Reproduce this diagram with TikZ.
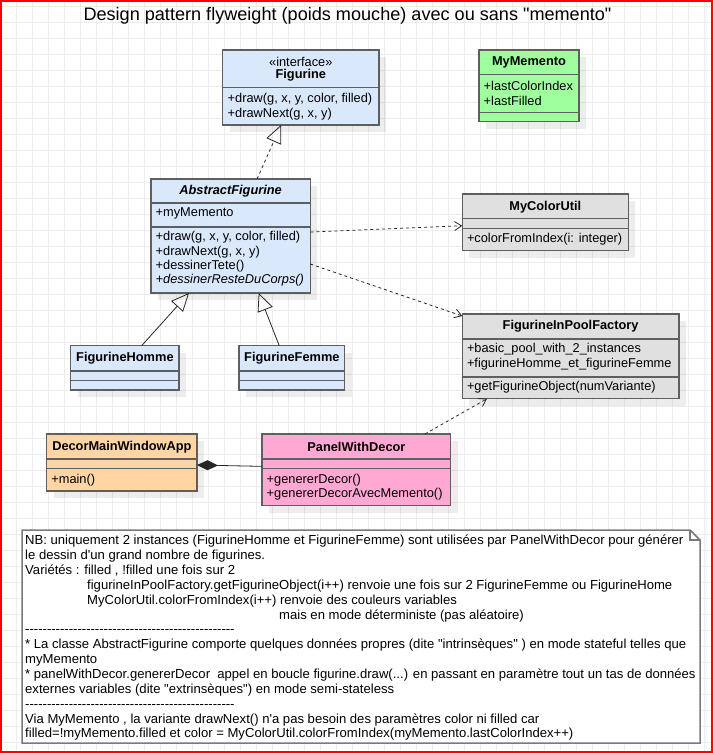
\documentclass[tikz,border=0pt]{standalone}
\usepackage{fontspec}
\newfontfamily\uifont{Liberation Sans}
\usetikzlibrary{arrows.meta,positioning,shadows}
\definecolor{boxline}{HTML}{5F5F5F}
\definecolor{notelin}{HTML}{7A7A7A}
\definecolor{gridcol}{HTML}{ECECEC}
\definecolor{bluefill}{HTML}{DAE8FC}
\definecolor{greenfill}{HTML}{9FFF9F}
\definecolor{grayfill}{HTML}{E0E0E0}
\definecolor{orangefill}{HTML}{FFD5A6}
\definecolor{pinkfill}{HTML}{FFA8D3}

\begin{document}
\begin{tikzpicture}[x=1pt,y=-1pt,font=\uifont\fontsize{12.8}{14.7}\selectfont]
\tikzstyle{classbox}=[draw=boxline,line width=1.3pt,anchor=north west,
inner sep=0pt,outer sep=0pt,
drop shadow={shadow xshift=7pt,shadow yshift=-7pt,fill=black,opacity=.07}]
\tikzstyle{divider}=[draw=boxline,line width=1.3pt]
\tikzstyle{classname}=[inner sep=0pt,font=\uifont\fontsize{12.8}{14.7}\selectfont\bfseries]
\tikzstyle{member}=[inner sep=0pt,anchor=west]
\tikzstyle{link}=[line width=0.8pt,draw=black!85]
\tikzstyle{dep}=[link,dash pattern=on 3pt off 3pt,-{Straight Barb[length=7pt,width=9pt]}]
\tikzstyle{inherit}=[link,-{Triangle[open,length=18pt,width=16pt]}]

\useasboundingbox (0,0) rectangle (713,753);
% grid
\foreach \gx in {0,16,...,712} \draw[gridcol,line width=0.8pt] (\gx,0) -- (\gx,753);
\foreach \gy in {6,22,...,752} \draw[gridcol,line width=0.8pt] (0,\gy) -- (713,\gy);

\node[font=\uifont\fontsize{18.1}{20}\selectfont] (title) at (347.5,16)
{Design pattern flyweight (poids mouche) avec ou sans "memento"};

% Figurine
\node[classbox,fill=bluefill,minimum width=156.3pt,minimum height=75pt] (fig) at (222.7,50) {};
\draw[divider] (fig.west |- 0,87.7) -- (fig.east |- 0,87.7);
\node[inner sep=0pt] (figstereo) at (300.8,61.5) {«interface»};
\node[classname] (figname) at (300.8,75.7) {Figurine};
\node[member] (figm1) at (227.5,99.3) {+draw(g, x, y, color, filled)};
\node[member] (figm2) at (227.5,114) {+drawNext(g, x, y)};

% MyMemento
\node[classbox,fill=greenfill,minimum width=100pt,minimum height=71.7pt] (memento) at (479,50) {};
\draw[divider] (memento.west |- 0,74.7) -- (memento.east |- 0,74.7);
\draw[divider] (memento.west |- 0,112.7) -- (memento.east |- 0,112.7);
\node[classname] (mementoname) at (529,62.7) {MyMemento};
\node[member] (mementoa1) at (483.5,85.7) {+lastColorIndex};
\node[member] (mementoa2) at (483.5,100.7) {+lastFilled};

% AbstractFigurine
\node[classbox,fill=bluefill,minimum width=159.3pt,minimum height=114pt] (abs) at (151,179) {};
\draw[divider] (abs.west |- 0,203) -- (abs.east |- 0,203);
\draw[divider] (abs.west |- 0,227) -- (abs.east |- 0,227);
\node[classname,font=\uifont\fontsize{12.8}{14.7}\selectfont\bfseries\itshape] (absname) at (230.6,191) {AbstractFigurine};
\node[member] (absa1) at (155.5,213.3) {+myMemento};
\node[member] (absm1) at (155.5,237.3) {+draw(g, x, y, color, filled)};
\node[member] (absm2) at (155.5,251.7) {+drawNext(g, x, y)};
\node[member] (absm3) at (155.5,265.9) {+dessinerTete()};
\node[member,font=\uifont\fontsize{12.8}{14.7}\selectfont\itshape] (absm4) at (155.5,280.3) {+dessinerResteDuCorps()};

% MyColorUtil
\node[classbox,fill=grayfill,minimum width=166pt,minimum height=56.7pt] (colorutil) at (462.3,194) {};
\draw[divider] (colorutil.west |- 0,218.7) -- (colorutil.east |- 0,218.7);
\draw[divider] (colorutil.west |- 0,228.7) -- (colorutil.east |- 0,228.7);
\node[classname] (colorutilname) at (545.3,206.7) {MyColorUtil};
\node[member] (colorutilm1) at (466.8,239.5) {+colorFromIndex(i: integer)};

% FigurineInPoolFactory
\node[classbox,fill=grayfill,minimum width=216.7pt,minimum height=84.7pt] (factory) at (462.3,314) {};
\draw[divider] (factory.west |- 0,339) -- (factory.east |- 0,339);
\draw[divider] (factory.west |- 0,377) -- (factory.east |- 0,377);
\node[classname] (factoryname) at (570.6,326.7) {FigurineInPoolFactory};
\node[member] (factorya1) at (466.8,349.5) {+basic\_pool\_with\_2\_instances};
\node[member] (factorya2) at (466.8,364.5) {+figurineHomme\_et\_figurineFemme};
\node[member] (factorym1) at (466.8,387.5) {+getFigurineObject(numVariante)};

% FigurineHomme, FigurineFemme
\node[classbox,fill=bluefill,minimum width=108.3pt,minimum height=44.3pt] (homme) at (70.7,345.7) {};
\draw[divider] (homme.west |- 0,371) -- (homme.east |- 0,371);
\draw[divider] (homme.west |- 0,380.7) -- (homme.east |- 0,380.7);
\node[classname] (hommename) at (124.9,358.3) {FigurineHomme};
\node[classbox,fill=bluefill,minimum width=105.7pt,minimum height=44.3pt] (femme) at (239,345.7) {};
\draw[divider] (femme.west |- 0,371) -- (femme.east |- 0,371);
\draw[divider] (femme.west |- 0,380.7) -- (femme.east |- 0,380.7);
\node[classname] (femmename) at (291.9,358.3) {FigurineFemme};

% DecorMainWindowApp
\node[classbox,fill=orangefill,minimum width=150.3pt,minimum height=57pt] (app) at (46.7,434) {};
\draw[divider] (app.west |- 0,459) -- (app.east |- 0,459);
\draw[divider] (app.west |- 0,468.7) -- (app.east |- 0,468.7);
\node[classname] (appname) at (121.9,446.7) {DecorMainWindowApp};
\node[member] (appm1) at (51.2,480) {+main()};

% PanelWithDecor
\node[classbox,fill=pinkfill,minimum width=188.7pt,minimum height=71.7pt] (panel) at (262,434) {};
\draw[divider] (panel.west |- 0,459) -- (panel.east |- 0,459);
\draw[divider] (panel.west |- 0,468.7) -- (panel.east |- 0,468.7);
\node[classname] (panelname) at (356.4,446.7) {PanelWithDecor};
\node[member] (panelm1) at (266.5,480) {+genererDecor()};
\node[member] (panelm2) at (266.5,494.3) {+genererDecorAvecMemento()};

% connectors
\draw[inherit,dash pattern=on 3pt off 3pt] ([xshift=26.4pt]abs.north) -- ([xshift=-19.8pt]fig.south);
\draw[inherit] ([xshift=16.8pt]homme.north) -- ([xshift=-41.6pt]abs.south);
\draw[inherit] ([xshift=-12.6pt]femme.north) -- ([xshift=28pt]abs.south);
\draw[dep] ([yshift=4pt]abs.east) -- ([yshift=-3.4pt]colorutil.west);
\draw[dep] ([yshift=-28pt]abs.east) -- ([yshift=-2pt]factory.north west);
\draw[dep] ([xshift=68.6pt]panel.north) -- ([xshift=-83.6pt]factory.south);
\draw[link,{Diamond[length=21pt,width=10pt]}-] ([yshift=-2.5pt]app.east) -- ([yshift=3.5pt]panel.west);

% note
\draw[notelin,line width=1.5pt,fill=white] (22,530) -- (690,530) -- (700,540) -- (700,743) -- (22,743) -- cycle;
\draw[notelin,line width=1.2pt] (690,530) -- (690,540) -- (700,540);
\node[inner sep=0pt,anchor=north west,align=left,font=\uifont\fontsize{13.1}{14.85}\selectfont] (note) at (25,535) {%
NB: uniquement 2 instances (FigurineHomme et FigurineFemme) sont utilisées par PanelWithDecor pour générer\\
le dessin d'un grand nombre de figurines.\\
Variétés : filled , !filled une fois sur 2\\
\hspace*{62pt}figurineInPoolFactory.getFigurineObject(i++) renvoie une fois sur 2 FigurineFemme ou FigurineHome\\
\hspace*{62pt}MyColorUtil.colorFromIndex(i++) renvoie des couleurs variables\\
\hspace*{254pt}mais en mode déterministe (pas aléatoire)\\
------------------------------------------------\\
* La classe AbstractFigurine comporte quelques données propres (dite "intrinsèques" ) en mode stateful telles que\\
myMemento\\
* panelWithDecor.genererDecor\ \ appel en boucle figurine.draw(...) en passant en paramètre tout un tas de données\\
externes variables (dite "extrinsèques") en mode semi-stateless\\
------------------------------------------------\\
Via MyMemento , la variante drawNext() n'a pas besoin des paramètres color ni filled car\\
filled=!myMemento.filled et color = MyColorUtil.colorFromIndex(myMemento.lastColorIndex++)};

% frame
\draw[red,line width=2.4pt] (1.2,1.2) rectangle (711.8,751.8);
\end{tikzpicture}
\end{document}
